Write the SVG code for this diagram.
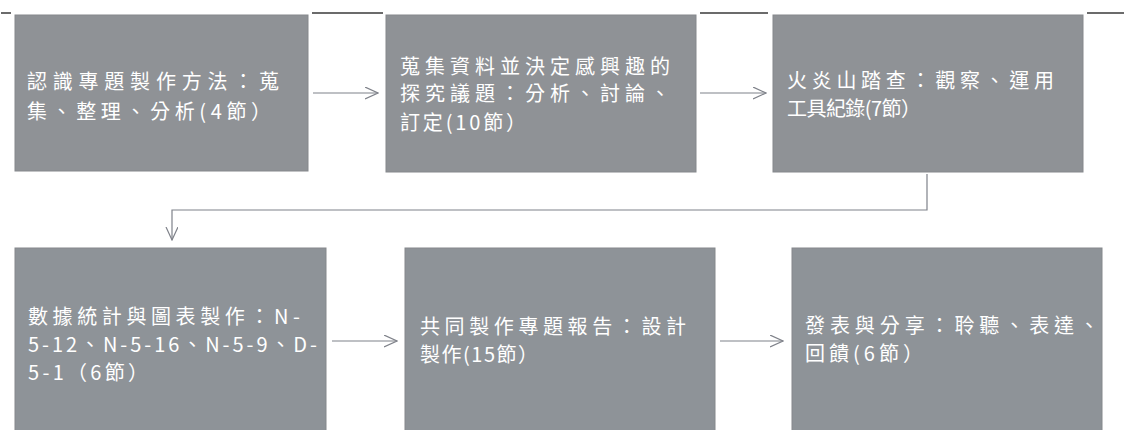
<svg xmlns="http://www.w3.org/2000/svg" width="1124" height="430" viewBox="0 0 1124 430">
<style>
.box{fill:#8f9296;stroke:#85888c;stroke-width:1}
.box2{fill:#8e9398;stroke:#85888c;stroke-width:1}
.t{font-family:"Noto Sans CJK TC","Noto Sans CJK SC",sans-serif;font-size:20px;fill:#ffffff}
.c{fill:none;stroke:#7f828a;stroke-width:1.2}
.dash{stroke:#3a3a3a;stroke-width:1.5}
</style>
<defs>
<marker id="a" markerWidth="14" markerHeight="14" refX="13" refY="6" orient="auto" markerUnits="userSpaceOnUse">
<path d="M0,0 L13,6 L0,12" fill="none" stroke="#7f828a" stroke-width="1.2"/>
</marker>
</defs>
<g id="topdashes">
<line class="dash" x1="1" y1="13" x2="11" y2="13"/>
<line class="dash" x1="312" y1="13" x2="383" y2="13"/>
<line class="dash" x1="700" y1="13" x2="768" y2="13"/>
<line class="dash" x1="1087" y1="13" x2="1124" y2="13"/>
</g>
<g id="connectors">
<line class="c" x1="313" y1="93" x2="378" y2="93" marker-end="url(#a)"/>
<line class="c" x1="700" y1="93" x2="766" y2="93" marker-end="url(#a)"/>
<path class="c" d="M927,174 V210 H172 V240" marker-end="url(#a)"/>
<line class="c" x1="332" y1="341" x2="397" y2="341" marker-end="url(#a)"/>
<line class="c" x1="720" y1="341" x2="783" y2="341" marker-end="url(#a)"/>
</g>
<g id="n1">
<rect class="box" x="15" y="15" width="293" height="156"/>
<text class="t" x="27" y="89" textLength="252" lengthAdjust="spacing">認識專題製作方法：蒐</text>
<text class="t" x="27" y="119" textLength="244" lengthAdjust="spacing">集、整理、分析(4節）</text>
</g>
<g id="n2">
<rect class="box" x="386" y="15" width="310" height="157"/>
<text class="t" x="400" y="74" textLength="270" lengthAdjust="spacing">蒐集資料並決定感興趣的</text>
<text class="t" x="400" y="101" textLength="270" lengthAdjust="spacing">探究議題：分析、討論、</text>
<text class="t" x="400" y="130" textLength="126" lengthAdjust="spacing">訂定(10節）</text>
</g>
<g id="n3">
<rect class="box" x="773" y="15" width="310" height="157"/>
<text class="t" x="787" y="88" textLength="267" lengthAdjust="spacing">火炎山踏查：觀察、運用</text>
<text class="t" x="787" y="116" textLength="134" lengthAdjust="spacing">工具紀錄(7節）</text>
</g>
<g id="n4">
<rect class="box2" x="15" y="248" width="311" height="190"/>
<text class="t" x="28" y="324" textLength="272" lengthAdjust="spacing">數據統計與圖表製作：N-</text>
<text class="t" x="28" y="352" textLength="289" lengthAdjust="spacing">5-12、N-5-16、N-5-9、D-</text>
<text class="t" x="28" y="380" textLength="120" lengthAdjust="spacing">5-1（6節）</text>
</g>
<g id="n5">
<rect class="box2" x="405" y="248" width="310" height="190"/>
<text class="t" x="420" y="334" textLength="266" lengthAdjust="spacing">共同製作專題報告：設計</text>
<text class="t" x="420" y="362" textLength="118" lengthAdjust="spacing">製作(15節）</text>
</g>
<g id="n6">
<rect class="box2" x="792" y="248" width="310" height="190"/>
<text class="t" x="805" y="333" textLength="294" lengthAdjust="spacing">發表與分享：聆聽、表達、</text>
<text class="t" x="805" y="361" textLength="118" lengthAdjust="spacing">回饋(6節）</text>
</g>
</svg>
